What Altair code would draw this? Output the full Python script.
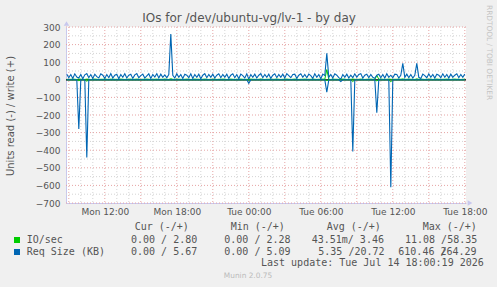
import altair as alt
import pandas as pd

# ---------------- data ----------------
START = "2026-07-13 08:50"
N_POINTS = 200  # 10-minute samples

req_write = [
    32, 12, 30, 8, 34, 16, 10, 30, 6, 28, 35, 12, 30, 8, 32, 18, 10, 34, 26, 8,
    30, 12, 35, 10, 26, 32, 6, 30, 14, 34, 10, 26, 32, 8, 28, 35, 12, 24, 32, 10,
    22, 34, 8, 30, 16, 35, 10, 32, 14, 28, 12, 30, 260, 26, 10, 34, 14, 30, 8, 32,
    26, 12, 34, 8, 30, 14, 32, 6, 26, 35, 12, 30, 14, 32, 10, 26, 34, 12, 30, 14,
    32, 8, 26, 34, 12, 30, 6, 32, 24, 10, 34, 4, 30, 14, 32, 10, 26, 35, 12, 30,
    14, 32, 8, 26, 34, 12, 30, 14, 32, 10, 35, 24, 12, 30, 32, 8, 26, 34, 14, 30,
    12, 32, 24, 8, 34, 14, 30, 6, 32, 24, 150, 14, 30, 10, 34, 26, 12, 4, 30, 14,
    32, 10, 26, 12, 34, 14, 30, 35, 10, 26, 32, 12, 30, 14, 8, 26, 32, 12, 30, 10,
    34, 14, 26, 12, 32, 30, 10, 26, 93, 14, 32, 12, 30, 10, 26, 93, 14, 8, 32, 24,
    12, 34, 14, 30, 10, 32, 26, 12, 34, 14, 30, 10, 32, 14, 26, 34, 12, 30, 14, 32,
]
req_read = [
    0, 0, 0, 0, 0, 0, 280, 0, 0, 0, 442, 0, 0, 0, 0, 0, 0, 0, 0, 0,
    0, 0, 0, 0, 0, 0, 0, 0, 0, 0, 0, 0, 0, 0, 0, 0, 0, 0, 0, 0,
    0, 0, 0, 0, 0, 0, 0, 0, 0, 0, 0, 0, 0, 0, 0, 0, 0, 0, 0, 0,
    0, 0, 0, 0, 0, 0, 0, 0, 0, 0, 0, 0, 0, 0, 0, 0, 0, 0, 0, 0,
    0, 0, 0, 0, 0, 0, 0, 0, 0, 0, 0, 20, 0, 0, 0, 0, 0, 0, 0, 0,
    0, 0, 0, 0, 0, 0, 0, 0, 0, 0, 0, 0, 0, 0, 0, 0, 0, 0, 0, 0,
    0, 0, 0, 0, 0, 0, 0, 0, 0, 0, 70, 0, 0, 0, 0, 0, 0, 10, 0, 0,
    0, 0, 0, 408, 0, 0, 0, 0, 0, 0, 0, 0, 0, 0, 0, 187, 0, 0, 0, 0,
    0, 0, 611, 0, 0, 0, 0, 0, 0, 0, 0, 0, 0, 0, 0, 0, 0, 0, 0, 0,
    0, 0, 0, 0, 0, 0, 0, 0, 0, 0, 0, 0, 0, 0, 0, 0, 0, 0, 0, 0,
]
io_write = [
    3, 2, 3, 4, 3, 2, 4, 3, 3, 2, 4, 3, 2, 3, 4, 3, 2, 3, 3, 4,
    3, 2, 4, 3, 3, 2, 3, 4, 3, 2, 3, 3, 4, 2, 3, 4, 3, 2, 3, 3,
    4, 3, 2, 3, 3, 4, 2, 3, 3, 4, 3, 2, 6, 3, 2, 4, 3, 3, 2, 3,
    4, 3, 2, 3, 4, 3, 3, 2, 3, 4, 3, 2, 3, 3, 4, 2, 3, 3, 4, 3,
    2, 3, 4, 3, 2, 3, 3, 4, 3, 2, 3, 2, 4, 3, 3, 2, 3, 4, 3, 2,
    3, 3, 4, 2, 3, 4, 3, 2, 3, 3, 4, 3, 2, 3, 4, 3, 2, 3, 3, 4,
    3, 2, 3, 4, 3, 2, 3, 3, 4, 3, 58, 3, 2, 4, 3, 3, 2, 3, 4, 3,
    2, 3, 3, 4, 3, 2, 3, 4, 3, 2, 3, 3, 4, 3, 2, 25, 3, 4, 3, 2,
    3, 4, 3, 2, 3, 3, 4, 3, 5, 2, 3, 4, 3, 3, 2, 5, 3, 4, 3, 2,
    3, 3, 4, 2, 3, 4, 3, 2, 3, 3, 4, 3, 2, 3, 4, 3, 3, 2, 3, 3,
]
io_read = [
    0, 0, 0, 0, 0, 0, 5, 0, 0, 0, 8, 0, 0, 0, 0, 0, 0, 0, 0, 0,
    0, 0, 0, 0, 0, 0, 0, 0, 0, 0, 0, 0, 0, 0, 0, 0, 0, 0, 0, 0,
    0, 0, 0, 0, 0, 0, 0, 0, 0, 0, 0, 0, 0, 0, 0, 0, 0, 0, 0, 0,
    0, 0, 0, 0, 0, 0, 0, 0, 0, 0, 0, 0, 0, 0, 0, 0, 0, 0, 0, 0,
    0, 0, 0, 0, 0, 0, 0, 0, 0, 0, 0, 2, 0, 0, 0, 0, 0, 0, 0, 0,
    0, 0, 0, 0, 0, 0, 0, 0, 0, 0, 0, 0, 0, 0, 0, 0, 0, 0, 0, 0,
    0, 0, 0, 0, 0, 0, 0, 0, 0, 0, 4, 0, 0, 0, 0, 0, 0, 0, 0, 0,
    0, 0, 0, 10, 0, 0, 0, 0, 0, 0, 0, 0, 0, 0, 0, 6, 0, 0, 0, 0,
    0, 0, 11, 0, 0, 0, 0, 0, 0, 0, 0, 0, 0, 0, 0, 0, 0, 0, 0, 0,
    0, 0, 0, 0, 0, 0, 0, 0, 0, 0, 0, 0, 0, 0, 0, 0, 0, 0, 0, 0,
]

y_ticks = [-700, -600, -500, -400, -300, -200, -100, 0, 100, 200, 300]
y_minor = [-650, -550, -450, -350, -250, -150, -50, 50, 150, 250]

legend_header = ["Cur (-/+)", "Min (-/+)", "Avg (-/+)", "Max (-/+)"]
io_row = ["IO/sec", "0.00 / 2.80", "0.00 / 2.28", "43.51m/ 3.46", "11.08 /58.35"]
req_row = ["Req Size (KB)", "0.00 / 5.67", "0.00 / 5.09", "5.35 /20.72", "610.46 264.29"]
last_update = "Last update: Tue Jul 14 18:00:19 2026"

GREEN = "#00CC00"
BLUE = "#0066B3"
TXT = "#555555"

# ---------------- frames ----------------
times = pd.date_range(START, periods=N_POINTS, freq="10min")
tstr = [t.strftime("%Y-%m-%dT%H:%M:%S") for t in times]

rows = []
for i, t in enumerate(tstr):
    rows.append({"t": t, "v": io_write[i], "s": "io_w", "g": "io"})
    rows.append({"t": t, "v": -io_read[i], "s": "io_r", "g": "io"})
    rows.append({"t": t, "v": req_write[i], "s": "req_w", "g": "req"})
    rows.append({"t": t, "v": -req_read[i], "s": "req_r", "g": "req"})
df = pd.DataFrame(rows)

hours = pd.date_range("2026-07-13 09:00", "2026-07-14 18:00", freq="1h")
x_major = [h.strftime("%Y-%m-%dT%H:%M:%S") for h in hours if h.hour % 3 == 0]
x_minor = [h.strftime("%Y-%m-%dT%H:%M:%S") for h in hours if h.hour % 3 != 0]

def dt(d, h, m=0):
    return alt.DateTime(year=2026, month=7, date=d, hours=h, minutes=m)

xscale = alt.Scale(domain=[dt(13, 8, 46), dt(14, 18, 6)])
yscale = alt.Scale(domain=[-700, 300], nice=False, zero=False)

AX_COL = "#c8c8ee"
xaxis = alt.Axis(
    values=[dt(13, 12), dt(13, 18), dt(14, 0), dt(14, 6), dt(14, 12), dt(14, 18)],
    format="%a %H:%M", title=None, grid=False, ticks=False,
    labelFont="DejaVu Sans", labelFontSize=9, labelColor=TXT, labelPadding=4,
    domainColor=AX_COL, labelFlush=False,
)
yaxis = alt.Axis(
    values=y_ticks, title=None, grid=False, ticks=False,
    labelFont="DejaVu Sans", labelFontSize=9, labelColor=TXT, labelPadding=6,
    domainColor=AX_COL,
)

X = alt.X("t:T", scale=xscale, axis=xaxis)
Y = alt.Y("v:Q", scale=yscale, axis=yaxis)

grid_minor_x = alt.Chart(pd.DataFrame({"t": x_minor})).mark_rule(
    color="#d4d4d4", strokeDash=[1, 2], strokeWidth=1
).encode(x=X)
grid_major_x = alt.Chart(pd.DataFrame({"t": x_major})).mark_rule(
    color="#e6a4a4", strokeDash=[1, 2], strokeWidth=1
).encode(x=X)
grid_minor_y = alt.Chart(pd.DataFrame({"v": y_minor})).mark_rule(
    color="#d4d4d4", strokeDash=[1, 2], strokeWidth=1
).encode(y=Y)
grid_major_y = alt.Chart(pd.DataFrame({"v": y_ticks})).mark_rule(
    color="#e6a4a4", strokeDash=[1, 2], strokeWidth=1
).encode(y=Y)
zero_line = alt.Chart(pd.DataFrame({"v": [0]})).mark_rule(
    color="#000000", strokeWidth=1.2
).encode(y=Y)

green_lines = alt.Chart(df[df.g == "io"]).mark_line(
    color=GREEN, strokeWidth=1, interpolate="linear"
).encode(x=X, y=Y, detail="s:N")
blue_lines = alt.Chart(df[df.g == "req"]).mark_line(
    color=BLUE, strokeWidth=1.1, interpolate="linear"
).encode(x=X, y=Y, detail="s:N")

PX = lambda f: alt.X(f"{f}:Q", scale=None, axis=None)
PY = lambda f: alt.Y(f"{f}:Q", scale=None, axis=None)

arrows = alt.Chart(pd.DataFrame({
    "px": [0.5, 404], "py": [-3.5, 176], "shape": ["triangle-up", "triangle-right"]
})).mark_point(filled=True, color=AX_COL, size=30, opacity=1).encode(
    x=PX("px"), y=PY("py"), shape=alt.Shape("shape:N", scale=None)
)

title = alt.Chart(pd.DataFrame({"px": [183], "py": [-9],
                                "txt": ["IOs for /dev/ubuntu-vg/lv-1 - by day"]})).mark_text(
    font="DejaVu Sans", fontSize=12, color=TXT, align="center", baseline="middle"
).encode(x=PX("px"), y=PY("py"), text="txt:N")

ytitle = alt.Chart(pd.DataFrame({"px": [-55], "py": [89],
                                 "txt": ["Units read (-) / write (+)"]})).mark_text(
    font="DejaVu Sans", fontSize=10, color=TXT, align="center", baseline="middle", angle=270
).encode(x=PX("px"), y=PY("py"), text="txt:N")

rrd = alt.Chart(pd.DataFrame({"px": [423], "py": [-22],
                              "txt": ["RRDTOOL / TOBI OETIKER"]})).mark_text(
    font="DejaVu Sans", fontSize=7.4, color="#c4c4c4", align="left", baseline="middle", angle=90
).encode(x=PX("px"), y=PY("py"), text="txt:N")

leg_x = [-39.3, 65, 158.3, 245.7, 339]
leg_rows = []
for j, h in enumerate(legend_header):
    leg_rows.append({"px": [68.7, 164.7, 260.7, 356.7][j], "py": 200.3, "txt": h})
for j, s in enumerate(io_row):
    leg_rows.append({"px": leg_x[j], "py": 213, "txt": s})
req_x = [-39.3, 65, 158.3, 252.3, 332.3]
for j, s in enumerate(req_row):
    leg_rows.append({"px": req_x[j], "py": 225, "txt": s})
leg_rows.append({"px": 332.3 + 7 * 6.02, "py": 225, "txt": "/"})
leg_rows.append({"px": 195, "py": 236.3, "txt": last_update})
legend = alt.Chart(pd.DataFrame(leg_rows)).mark_text(
    font="DejaVu Sans Mono", fontSize=10, color=TXT, align="left", baseline="middle"
).encode(x=PX("px"), y=PY("py"), text="txt:N")

swatches = alt.Chart(pd.DataFrame({"px": [-49, -49], "py": [213, 225],
                                   "c": [GREEN, BLUE]})).mark_square(
    size=36, opacity=1
).encode(x=PX("px"), y=PY("py"), color=alt.Color("c:N", scale=None))

munin = alt.Chart(pd.DataFrame({"px": [182], "py": [249], "txt": ["Munin 2.0.75"]})).mark_text(
    font="DejaVu Sans", fontSize=7.4, color="#bbbbbb", align="center", baseline="middle"
).encode(x=PX("px"), y=PY("py"), text="txt:N")

chart = alt.layer(
    grid_minor_x, grid_minor_y, grid_major_x, grid_major_y, zero_line,
    green_lines, blue_lines, arrows, title, ytitle, rrd, legend, swatches, munin,
).properties(
    width=400, height=176,
    background="#F0F0F0",
    padding={"left": 66, "top": 27, "right": 31, "bottom": 84},
    autosize=alt.AutoSizeParams(type="none"),
).configure_view(fill="white", stroke=None)

chart.save("out.html", embed_options={"renderer": "svg", "actions": False})
